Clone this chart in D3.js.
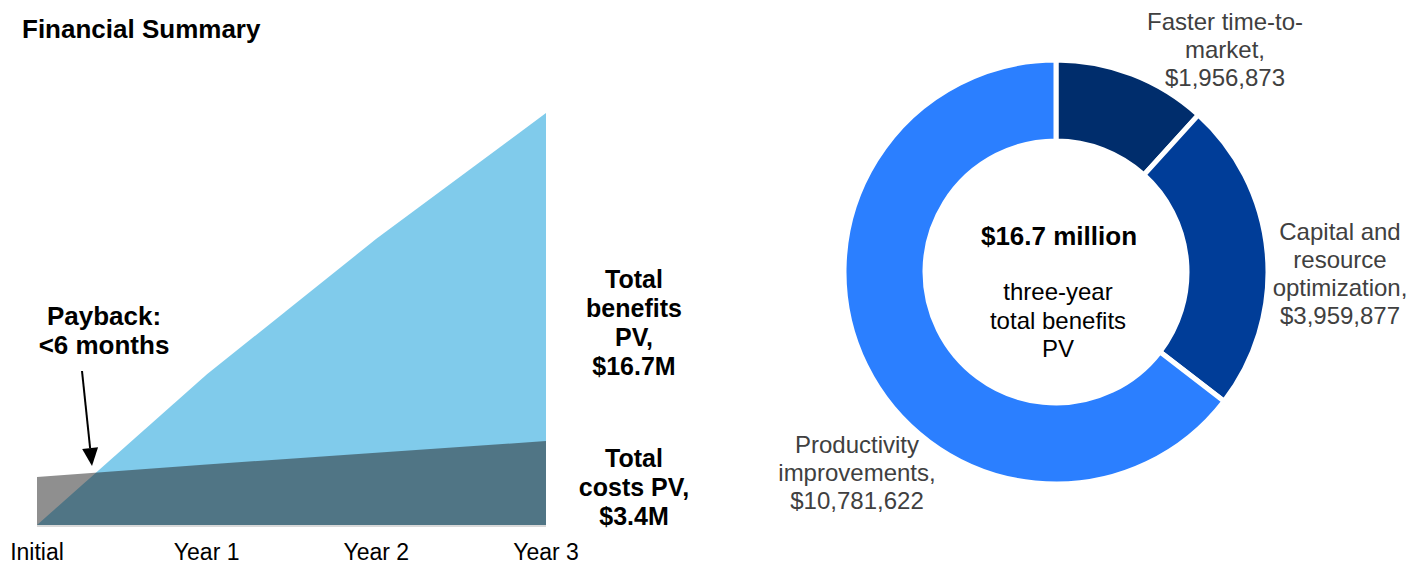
<!DOCTYPE html>
<html>
<head>
<meta charset="utf-8">
<script src="https://cdn.jsdelivr.net/npm/d3@7/dist/d3.min.js"></script>
<style>
  html, body { margin: 0; padding: 0; background: #fff; }
  svg { display: block; font-family: "Liberation Sans", Arial, Helvetica, sans-serif; }
</style>
</head>
<body>
<svg id="chart" width="1407" height="565"></svg>
<script>
// Cumulative benefits and costs (present value, $M)
const periods = ["Initial", "Year 1", "Year 2", "Year 3"];
const benefits = [0, 6.1, 11.6, 16.7];
const costs = [1.95, 2.45, 2.93, 3.4];

// Three-year benefit breakdown
const benefitNames = ["Faster time-to-market", "Capital and resource optimization", "Productivity improvements"];
const benefitValues = [1956873, 3959877, 10781622];
const benefitColors = ["#002d6c", "#003d98", "#2b7fff"];

const svg = d3.select("#chart");

// ---------- Left: cumulative area chart ----------
svg.append("text")
  .attr("x", 22).attr("y", 38)
  .attr("font-size", 26).attr("font-weight", "bold")
  .text("Financial Summary");

const x = d3.scalePoint().domain(periods).range([37, 546]);
const y = d3.scaleLinear().domain([0, 16.7]).range([525, 113]);

const area = d3.area()
  .x((d, i) => x(periods[i]))
  .y0(y(0))
  .y1(d => y(d));

svg.append("path")
  .datum(benefits)
  .attr("d", area)
  .attr("fill", "#80cbeb");

svg.append("path")
  .datum(costs)
  .attr("d", area)
  .attr("fill", "#1f1f1f")
  .attr("fill-opacity", 0.5);

// baseline
svg.append("line")
  .attr("x1", x("Initial")).attr("x2", x("Year 3"))
  .attr("y1", y(0) + 1).attr("y2", y(0) + 1)
  .attr("stroke", "#d9d9d9").attr("stroke-width", 2);

// category labels
svg.append("g").selectAll("text")
  .data(periods)
  .join("text")
  .attr("x", d => x(d))
  .attr("y", 560)
  .attr("text-anchor", "middle")
  .attr("font-size", 23)
  .text(d => d);

// payback annotation
const payback = svg.append("text")
  .attr("text-anchor", "middle")
  .attr("font-size", 26).attr("font-weight", "bold");
payback.append("tspan").attr("x", 104).attr("y", 325).text("Payback:");
payback.append("tspan").attr("x", 104).attr("y", 354).text("<6 months");

const a0 = [82, 371], a1 = [92, 466];
const ang = Math.atan2(a1[1] - a0[1], a1[0] - a0[0]);
const headLen = 18, headW = 8;
const base = [a1[0] - headLen * Math.cos(ang), a1[1] - headLen * Math.sin(ang)];
svg.append("line")
  .attr("x1", a0[0]).attr("y1", a0[1])
  .attr("x2", base[0]).attr("y2", base[1])
  .attr("stroke", "#000").attr("stroke-width", 2);
svg.append("path")
  .attr("d", d3.line()([
    a1,
    [base[0] + headW * Math.sin(ang), base[1] - headW * Math.cos(ang)],
    [base[0] - headW * Math.sin(ang), base[1] + headW * Math.cos(ang)]
  ]) + "Z")
  .attr("fill", "#000");

// series labels
function block(lines, cx, y0, lh, size, weight, fill) {
  const t = svg.append("text")
    .attr("text-anchor", "middle")
    .attr("font-size", size)
    .attr("font-weight", weight)
    .attr("fill", fill);
  lines.forEach((s, i) => t.append("tspan").attr("x", cx).attr("y", y0 + i * lh).text(s));
}
const total = benefits[benefits.length - 1];
const totalCost = costs[costs.length - 1];
block(["Total", "benefits", "PV,", `$${total.toFixed(1)}M`], 634, 288, 29, 25, "bold", "#000");
block(["Total", "costs PV,", `$${totalCost.toFixed(1)}M`], 634, 467, 29, 25, "bold", "#000");

// ---------- Right: benefit breakdown donut ----------
const cx = 1056, cy = 272, rOuter = 212, rInner = 131;
const pie = d3.pie().sort(null).value(d => d)(benefitValues);
const arc = d3.arc().innerRadius(rInner).outerRadius(rOuter);

const donut = svg.append("g").attr("transform", `translate(${cx},${cy})`);
donut.selectAll("path")
  .data(pie)
  .join("path")
  .attr("d", arc)
  .attr("fill", (d, i) => benefitColors[i])
  .attr("stroke", "#fff")
  .attr("stroke-width", 5)
  .attr("stroke-linejoin", "miter");

const fmt = d3.format("$,");
const labelGray = "#404040";
block(["Faster time-to-", "market,", fmt(benefitValues[0])], 1225, 30, 28, 24, "normal", labelGray);
block(["Capital and", "resource", "optimization,", fmt(benefitValues[1])], 1340, 240, 28, 24, "normal", labelGray);
block(["Productivity", "improvements,", fmt(benefitValues[2])], 857, 453, 28, 24, "normal", labelGray);

const sum = d3.sum(benefitValues);
block([`$${(sum / 1e6).toFixed(1)} million`], 1059, 245, 28, 26, "bold", "#000");
block(["three-year", "total benefits", "PV"], 1058, 300, 28.5, 24, "normal", "#000");
</script>
</body>
</html>
